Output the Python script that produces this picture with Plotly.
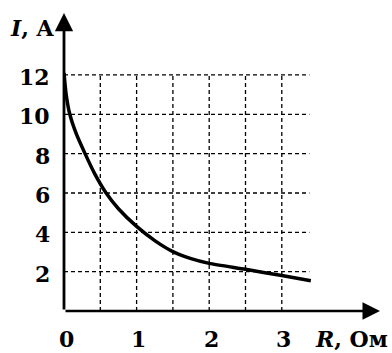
import plotly.graph_objects as go

# Data
R_vals = [0, 0.03, 0.08, 0.17, 0.29, 0.42, 0.58, 0.75, 1.0, 1.25, 1.5, 1.75, 2.0, 2.5, 3.0, 3.4]
I_vals = [12.1, 11.0, 10.0, 9.0, 8.0, 7.0, 6.0, 5.2, 4.3, 3.58, 3.02, 2.66, 2.42, 2.12, 1.8, 1.54]

x_ticks = [0, 1, 2, 3]
y_ticks = [2, 4, 6, 8, 10, 12]
x_grid = [0.5, 1, 1.5, 2, 2.5, 3]
y_grid = [2, 4, 6, 8, 10, 12]
grid_x_end = 3.38
grid_y_end = 12

W, H = 392, 353
L, Rm, T, B = 64, 12, 13, 42
x_max = (W - L - Rm) / 72.6
y_max = (H - T - B) / 19.67

FONT = "DejaVu Serif"
FS = 22

fig = go.Figure()
fig.add_trace(go.Scatter(x=R_vals, y=I_vals, mode="lines",
                         line=dict(color="black", width=3.5, shape="spline", smoothing=0.6),
                         hoverinfo="skip", showlegend=False))

shapes = []
for gx in x_grid:
    shapes.append(dict(type="line", xref="x", yref="y", x0=gx, x1=gx, y0=0, y1=grid_y_end,
                       line=dict(color="black", width=1.3, dash="4px,3px"), layer="below"))
for gy in y_grid:
    shapes.append(dict(type="line", xref="x", yref="y", x0=0, x1=grid_x_end, y0=gy, y1=gy,
                       line=dict(color="black", width=1.3, dash="4px,3px"), layer="below"))

annotations = []
# axes with arrows
annotations.append(dict(x=x_max, y=0, ax=0, ay=0, xref="x", yref="y", axref="x", ayref="y",
                        text="", showarrow=True, arrowhead=2, arrowsize=1.4, arrowwidth=2.5,
                        arrowcolor="black"))
annotations.append(dict(x=0, y=y_max, ax=0, ay=0, xref="x", yref="y", axref="x", ayref="y",
                        text="", showarrow=True, arrowhead=2, arrowsize=1.3, arrowwidth=2.8,
                        arrowcolor="black"))
for t in x_ticks:
    annotations.append(dict(x=t, y=0, xref="x", yref="y", text=f"<b>{t}</b>", showarrow=False,
                            xanchor="center", yanchor="middle", yshift=-28, xshift=2, borderpad=0,
                            font=dict(family=FONT, size=FS, color="black")))
for t in y_ticks:
    annotations.append(dict(x=0, y=t, xref="x", yref="y", text=f"<b>{t}</b>", showarrow=False,
                            xanchor="right", yanchor="middle", xshift=-12, yshift=-2,
                            font=dict(family=FONT, size=FS, color="black")))
annotations.append(dict(x=0, y=y_max, xref="x", yref="y", text="<b><i>I</i>, A</b>", showarrow=False,
                        xanchor="right", yanchor="middle", xshift=-7, yshift=-15,
                        font=dict(family=FONT, size=FS, color="black")))
annotations.append(dict(x=1, y=0, xref="paper", yref="y", text="<b><i>R</i>, Ом</b>", showarrow=False,
                        xanchor="right", yanchor="middle", xshift=9, yshift=-28, borderpad=0,
                        font=dict(family=FONT, size=FS, color="black")))

fig.update_layout(
    width=W, height=H,
    margin=dict(l=L, r=Rm, t=T, b=B),
    paper_bgcolor="white", plot_bgcolor="white",
    xaxis=dict(range=[0, x_max], visible=False, fixedrange=True),
    yaxis=dict(range=[0, y_max], visible=False, fixedrange=True),
    shapes=shapes, annotations=annotations, showlegend=False,
)

fig.write_html("out.html")
